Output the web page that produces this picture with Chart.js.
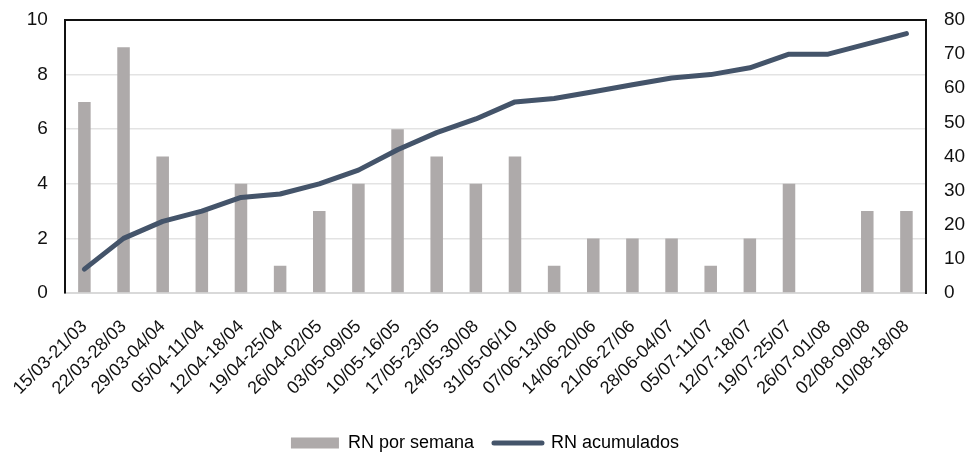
<!DOCTYPE html>
<html>
<head>
<meta charset="utf-8">
<script src="https://cdn.jsdelivr.net/npm/chart.js@4"></script>
<style>
  html,body{margin:0;padding:0;background:#fff;}
  #wrap{width:970px;height:452px;}
</style>
</head>
<body>
<div id="wrap"><canvas id="chartRN"></canvas></div>
<script>
// semanas
const weeks=['15/03-21/03','22/03-28/03','29/03-04/04','05/04-11/04','12/04-18/04','19/04-25/04','26/04-02/05','03/05-09/05','10/05-16/05','17/05-23/05','24/05-30/08','31/05-06/10','07/06-13/06','14/06-20/06','21/06-27/06','28/06-04/07','05/07-11/07','12/07-18/07','19/07-25/07','26/07-01/08','02/08-09/08','10/08-18/08'];
const rnSemana=[7,9,5,3,4,1,3,4,6,5,4,5,1,2,2,2,1,2,4,0,3,3];
const rnAcumulados=[7,16,21,24,28,29,32,36,42,47,51,56,57,59,61,63,64,66,70,70,73,76];
const leftTicks=[0,2,4,6,8,10];
const rightTicks=[0,10,20,30,40,50,60,70,80];

const BAR='#aeaaaa', LINE='#44546a';
Chart.defaults.font.family="'Liberation Sans', Arial, sans-serif";
Chart.defaults.color='#111';

// ancho fijo de los ejes verticales, sin reservar espacio extra arriba/abajo
const fixY=w=>s=>{s.width=w;s.paddingTop=0;s.paddingBottom=0;};

new Chart(document.getElementById('chartRN'),{
  type:'bar',
  data:{labels:weeks,datasets:[
    {label:'RN por semana',data:rnSemana,backgroundColor:BAR,borderWidth:0,yAxisID:'y',order:1,
     categoryPercentage:1,barPercentage:0.32},
    {type:'line',label:'RN acumulados',data:rnAcumulados,borderColor:LINE,borderWidth:5,yAxisID:'y1',order:0,
     pointRadius:0,tension:0,borderJoinStyle:'round',borderCapStyle:'round'}
  ]},
  options:{
    responsive:true,maintainAspectRatio:false,animation:false,
    layout:{padding:{top:20,bottom:-10}},
    plugins:{
      tooltip:{enabled:false},
      legend:{position:'bottom',labels:{
        usePointStyle:true,pointStyleWidth:48,boxHeight:11,padding:20,
        font:{size:18},color:'#222',
        generateLabels:()=>[
          {text:'RN por semana',fillStyle:BAR,strokeStyle:BAR,lineWidth:0,pointStyle:'rect',datasetIndex:0,hidden:false},
          {text:'RN acumulados',fillStyle:LINE,strokeStyle:LINE,lineWidth:5,lineCap:'round',pointStyle:'line',datasetIndex:1,hidden:false}
        ]
      }}
    },
    scales:{
      x:{
        grid:{display:false},
        border:{color:'#d9d9d9',width:2},
        ticks:{font:{size:18},color:'#111',maxRotation:45,minRotation:45,autoSkip:false,padding:15},
        afterFit:s=>{s.height=121;}
      },
      y:{
        position:'left',min:0,max:10,
        afterBuildTicks:s=>{s.ticks=leftTicks.map(v=>({value:v}));},
        grid:{drawTicks:false,
          color:c=>c.tick&&c.tick.value===10?'#111':'#e3e3e3',
          lineWidth:c=>c.tick&&c.tick.value===10?2:1.5},
        border:{color:'#111',width:2},
        ticks:{font:{size:19},color:'#111',padding:17},
        afterFit:fixY(64)
      },
      y1:{
        position:'right',min:0,max:80,
        afterBuildTicks:s=>{s.ticks=rightTicks.map(v=>({value:v}));},
        grid:{display:false,drawTicks:false},
        border:{color:'#111',width:2},
        ticks:{font:{size:19},color:'#111',padding:18},
        afterFit:fixY(44)
      }
    }
  }
});
</script>
</body>
</html>
